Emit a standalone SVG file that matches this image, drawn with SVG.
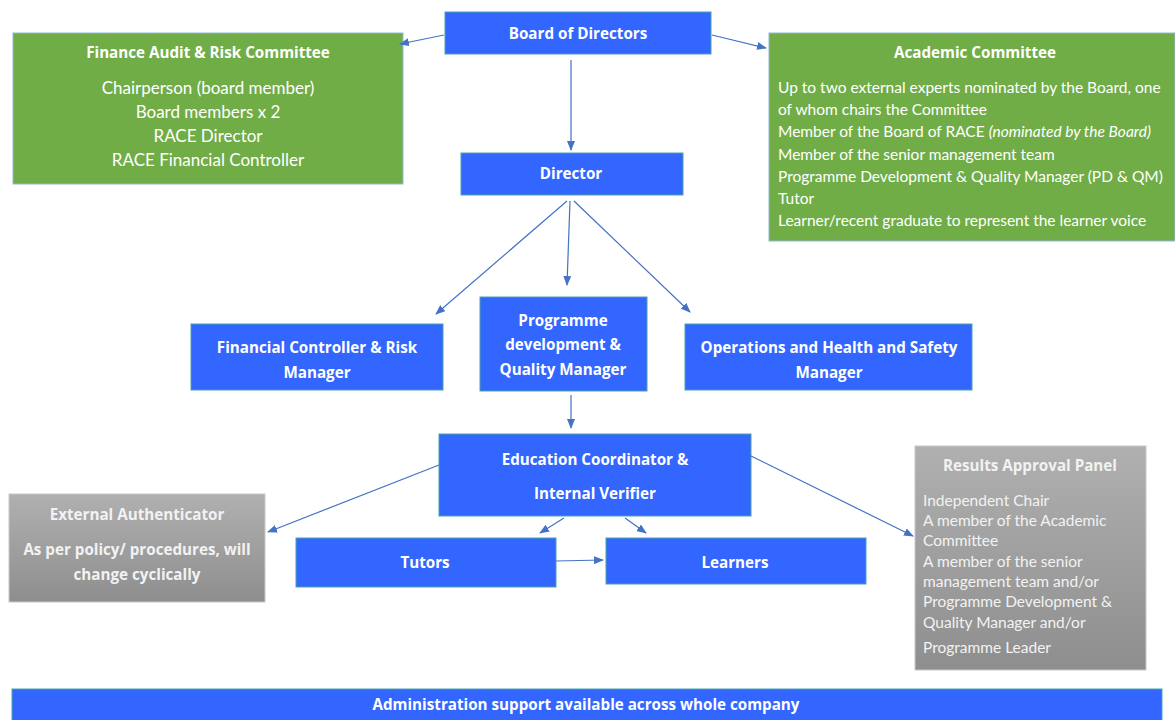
<svg xmlns="http://www.w3.org/2000/svg" width="1175" height="720" viewBox="0 0 1175 720">
<defs>
<linearGradient id="gray" x1="0" y1="0" x2="0" y2="1">
<stop offset="0" stop-color="#b0b0b0"/>
<stop offset="1" stop-color="#8e8e8e"/>
</linearGradient>
<marker id="arr" markerWidth="10" markerHeight="8" refX="9" refY="4" orient="auto" markerUnits="userSpaceOnUse">
<path d="M0,0 L10,4 L0,8 Z" fill="#4472c4"/>
</marker>
<style>
.blue{fill:#3366ff;stroke:#4aa3a8;stroke-width:1}
.green{fill:#70ad47;stroke:#8fb8d8;stroke-width:1}
.gray{fill:url(#gray);stroke:#c8c8c8;stroke-width:1}
text{font-family:Lato,"Open Sans","Liberation Sans",sans-serif;fill:#ffffff}
.b{font-family:"Open Sans",Lato,sans-serif;font-weight:bold;font-size:15.2px}
.t{font-size:17px}
.s{font-size:15.5px}
.r{font-size:15.5px}
.c{text-anchor:middle}
.gt{fill:#f2f2f2}
.conn line{stroke:#4472c4;stroke-width:1.2;marker-end:url(#arr)}
</style>
</defs>
<rect width="1175" height="720" fill="#ffffff"/>

<g id="board">
<rect class="blue" x="445" y="12" width="266" height="42"/>
<text class="b c" x="578" y="39">Board of Directors</text>
</g>

<g id="finance">
<rect class="green" x="13" y="33" width="390" height="151"/>
<text class="b c" x="208" y="58">Finance Audit &amp; Risk Committee</text>
<text class="t c" x="208" y="94">Chairperson (board member)</text>
<text class="t c" x="208" y="118">Board members x 2</text>
<text class="t c" x="208" y="142">RACE Director</text>
<text class="t c" x="208" y="166">RACE Financial Controller</text>
</g>

<g id="academic">
<rect class="green" x="769" y="33" width="406" height="208"/>
<text class="b c" x="975" y="58">Academic Committee</text>
<text class="s" x="778" y="93">Up to two external experts nominated by the Board, one</text>
<text class="s" x="778" y="115">of whom chairs the Committee</text>
<text class="s" x="778" y="137">Member of the Board of RACE <tspan font-style="italic">(nominated by the Board)</tspan></text>
<text class="s" x="778" y="160">Member of the senior management team</text>
<text class="s" x="778" y="182">Programme Development &amp; Quality Manager (PD &amp; QM)</text>
<text class="s" x="778" y="204">Tutor</text>
<text class="s" x="778" y="226">Learner/recent graduate to represent the learner voice</text>
</g>

<g id="director">
<rect class="blue" x="461" y="153" width="222" height="42"/>
<text class="b c" x="571" y="179">Director</text>
</g>

<g id="fincontroller">
<rect class="blue" x="191" y="324" width="252" height="66"/>
<text class="b c" x="317" y="353">Financial Controller &amp; Risk</text>
<text class="b c" x="317" y="378">Manager</text>
</g>

<g id="progdev">
<rect class="blue" x="480" y="297" width="167" height="94"/>
<text class="b c" x="563" y="326">Programme</text>
<text class="b c" x="563" y="350">development &amp;</text>
<text class="b c" x="563" y="375">Quality Manager</text>
</g>

<g id="operations">
<rect class="blue" x="685" y="324" width="287" height="66"/>
<text class="b c" x="829" y="353">Operations and Health and Safety</text>
<text class="b c" x="829" y="378">Manager</text>
</g>

<g id="education">
<rect class="blue" x="439" y="434" width="312" height="82"/>
<text class="b c" x="595" y="465">Education Coordinator &amp;</text>
<text class="b c" x="595" y="499">Internal Verifier</text>
</g>

<g id="external">
<rect class="gray" x="9" y="494" width="256" height="108"/>
<text class="b c gt" x="137" y="520">External Authenticator</text>
<text class="b c gt" x="137" y="555">As per policy/ procedures, will</text>
<text class="b c gt" x="137" y="580">change cyclically</text>
</g>

<g id="tutors">
<rect class="blue" x="296" y="538" width="260" height="49"/>
<text class="b c" x="425" y="568">Tutors</text>
</g>

<g id="learners">
<rect class="blue" x="606" y="538" width="260" height="46"/>
<text class="b c" x="735" y="568">Learners</text>
</g>

<g id="results">
<rect class="gray" x="915" y="446" width="231" height="224"/>
<text class="b c gt" x="1030" y="471">Results Approval Panel</text>
<text class="r gt" x="923" y="506">Independent Chair</text>
<text class="r gt" x="923" y="526">A member of the Academic</text>
<text class="r gt" x="923" y="546">Committee</text>
<text class="r gt" x="923" y="567">A member of the senior</text>
<text class="r gt" x="923" y="587">management team and/or</text>
<text class="r gt" x="923" y="607">Programme Development &amp;</text>
<text class="r gt" x="923" y="628">Quality Manager and/or</text>
<text class="r gt" x="923" y="653">Programme Leader</text>
</g>

<g id="admin">
<rect class="blue" x="12" y="689" width="1150" height="35"/>
<text class="b c" x="586" y="710">Administration support available across whole company</text>
</g>

<g id="connectors" class="conn">
<line x1="444" y1="35" x2="400" y2="44"/>
<line x1="712" y1="35" x2="766" y2="48"/>
<line x1="571" y1="60" x2="571" y2="150"/>
<line x1="567" y1="201" x2="436" y2="314"/>
<line x1="570" y1="201" x2="567" y2="285"/>
<line x1="574" y1="201" x2="690" y2="312"/>
<line x1="571" y1="395" x2="571" y2="428"/>
<line x1="439" y1="465" x2="268" y2="532"/>
<line x1="751" y1="456" x2="913" y2="536"/>
<line x1="564" y1="518" x2="540" y2="533"/>
<line x1="625" y1="518" x2="646" y2="533"/>
<line x1="556" y1="561" x2="603" y2="560"/>
</g>
</svg>
